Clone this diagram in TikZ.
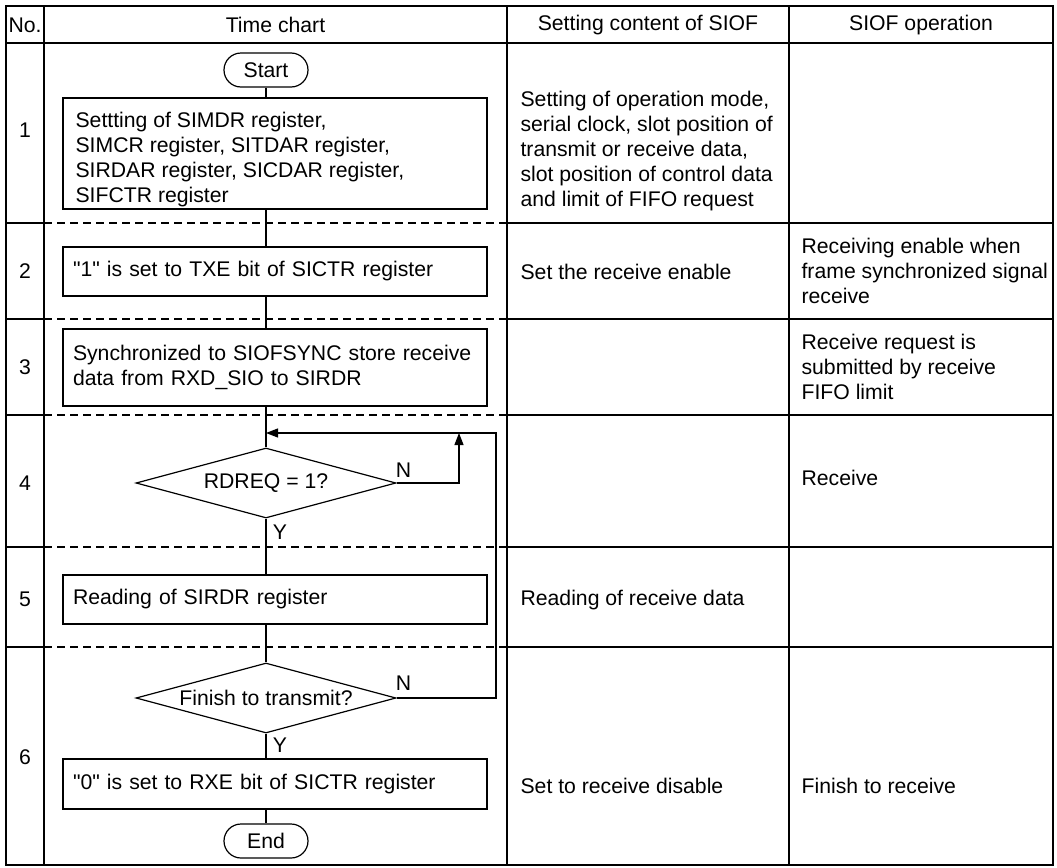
\documentclass[tikz,border=0pt]{standalone}
\usepackage{fontspec}
\setmainfont{Liberation Sans}[Ligatures=TeXOff]
\usetikzlibrary{positioning}
\usetikzlibrary{arrows.meta}
\usetikzlibrary{shapes.geometric}

\begin{document}
\begin{tikzpicture}[
    x=0.5pt, y=-0.5pt,
    font=\fontsize{10.6}{12.5}\selectfont,
    line width=0.6pt,
    sep/.style={dash pattern=on 4pt off 2.5pt},
    term/.style={rectangle, rounded corners=8.5pt, draw, minimum width=42pt, minimum height=17pt, inner sep=0pt},
    box/.style={rectangle, draw, minimum width=212pt, text width=202pt, inner xsep=5pt, align=left},
    cond/.style={diamond, draw, aspect=3.7, minimum width=130pt, minimum height=35pt, inner sep=0pt},
    txt/.style={align=left, anchor=west, inner sep=0pt},
    head/.style={inner sep=0pt},
    lbl/.style={inner sep=0pt},
    arr/.style={-{Triangle[length=6pt,width=4.5pt]}}
]
\useasboundingbox (0,0) rectangle (1057,868);

% table
\draw (6,6) rectangle (1053,865);
\draw (6,43) -- (1053,43);
\foreach \x in {44,507,789} \draw (\x,6) -- (\x,865);
\foreach \y in {223,319,415,547,647} {
  \draw (6,\y) -- (44,\y);
  \draw[sep] (44,\y) -- (507,\y);
  \draw (507,\y) -- (1053,\y);
}

\node[head] (hno) at (25,25) {No.};
\node[head] (hchart) at (275.5,25) {Time chart};
\node[head] (hset) at (648,25) {Setting content of SIOF};
\node[head] (hop) at (921,25) {SIOF operation};

\foreach \n/\y in {1/130,2/271,3/367,4/483,5/599,6/757}
  \node[head] (no\n) at (25,\y) {\n};

% time chart
\node[term] (start) at (266,70) {Start};
\node[box, minimum height=55.5pt] (set1) at (275,153.5) {};
\node[txt] (set1txt) at (75,160) {Settting of SIMDR register,\\SIMCR register, SITDAR register,\\SIRDAR register, SICDAR register,\\SIFCTR register};
\node[box, minimum height=24.5pt] (txe) at (275,271.5) {"1" is set to TXE bit of SICTR register};
\node[box, minimum height=38.5pt] (sync) at (275,367.5) {Synchronized to SIOFSYNC store receive\\data from RXD\_SIO to SIRDR};
\node[cond] (rdreq) at (266,483) {RDREQ = 1?};
\node[box, minimum height=24.5pt] (read) at (275,599.5) {Reading of SIRDR register};
\node[cond] (fin) at (266,698) {Finish to transmit?};
\node[box, minimum height=25pt] (rxe) at (275,784) {"0" is set to RXE bit of SICTR register};
\node[term] (stop) at (266,841) {End};

\draw (start) -- (start |- set1.north);
\draw (start |- set1.south) -- (start |- txe.north);
\draw (start |- txe.south) -- (start |- sync.north);
\draw (start |- sync.south) -- (rdreq.north);
\draw (rdreq.south) -- (rdreq |- read.north);
\draw (rdreq |- read.south) -- (fin.north);
\draw (fin.south) -- (fin |- rxe.north);
\draw (fin |- rxe.south) -- (stop);

\coordinate (loopn) at (459,433);
\coordinate (loopr) at (496,433);
\draw[arr] (rdreq.east) -| (loopn);
\draw[arr] (fin.east) -| (loopr) -- (start |- loopr);

\node[lbl] (n1) at ([xshift=3.5pt,yshift=6.5pt]rdreq.east) {N};
\node[lbl] (y1) at ([xshift=7pt,yshift=-7pt]rdreq.south) {Y};
\node[lbl] (n2) at ([xshift=3.5pt,yshift=7.5pt]fin.east) {N};
\node[lbl] (y2) at ([xshift=7pt,yshift=-6pt]fin.south) {Y};

% setting content
\node[txt] (c1) at (520,151.5) {Setting of operation mode,\\serial clock, slot position of\\transmit or receive data,\\slot position of control data\\and limit of FIFO request};
\node[txt] (c2) at (520,272) {Set the receive enable};
\node[txt] (c5) at (520,600) {Reading of receive data};
\node[txt] (c6) at (520,786) {Set to receive disable};

% operation
\node[txt] (d2) at (801,270.5) {Receiving enable when\\frame synchronized signal\\receive};
\node[txt] (d3) at (801,366.5) {Receive request is\\submitted by receive\\FIFO limit};
\node[txt] (d4) at (801,478) {Receive};
\node[txt] (d6) at (801,786) {Finish to receive};

\end{tikzpicture}
\end{document}
